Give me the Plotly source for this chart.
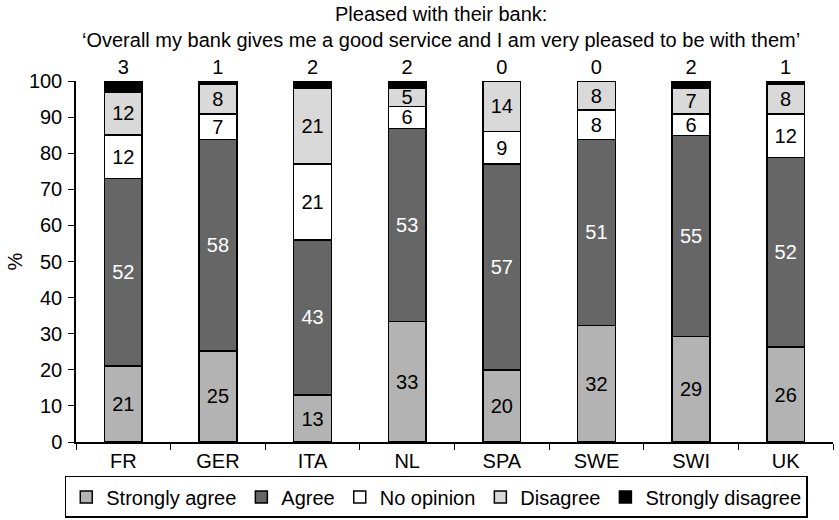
import plotly.graph_objects as go

countries = ["FR", "GER", "ITA", "NL", "SPA", "SWE", "SWI", "UK"]
strongly_agree = [21, 25, 13, 33, 20, 32, 29, 26]
agree = [52, 58, 43, 53, 57, 51, 55, 52]
no_opinion = [12, 7, 21, 6, 9, 8, 6, 12]
disagree = [12, 8, 21, 5, 14, 8, 7, 8]
strongly_disagree = [3, 1, 2, 2, 0, 0, 2, 1]
title_lines = [
    "Pleased with their bank:",
    "\u2018Overall my bank gives me a good service and I am very pleased to be with them\u2019",
]

series = [
    ("Strongly agree", strongly_agree, "#b3b3b3", "black", "inside"),
    ("Agree", agree, "#666666", "white", "inside"),
    ("No opinion", no_opinion, "#ffffff", "black", "inside"),
    ("Disagree", disagree, "#d9d9d9", "black", "inside"),
    ("Strongly disagree", strongly_disagree, "#000000", "black", "outside"),
]

FONT = "Liberation Sans, Arial, sans-serif"
FS = 20
W, H, LEFT, RIGHT, TOP, BOT = 839, 520, 76, 6, 81, 78
PLOT_H = H - TOP - BOT
PLOT_W = W - LEFT - RIGHT

fig = go.Figure()
for name, vals, color, tcolor, tpos in series:
    fig.add_trace(go.Bar(
        name=name, x=countries, y=vals,
        marker=dict(color=color, line=dict(color="black", width=1.5)),
        text=[str(v) for v in vals], textposition=tpos, textangle=0,
        insidetextanchor="middle",
        textfont=dict(size=FS, color=tcolor, family=FONT),
        cliponaxis=False, width=0.4,
    ))

for line, ypix in zip(title_lines, [14, 40]):
    fig.add_annotation(
        text=line, xref="paper", yref="paper",
        x=(441 - LEFT) / PLOT_W, xanchor="center",
        y=(H - BOT - ypix) / PLOT_H, yanchor="middle",
        showarrow=False, font=dict(size=FS, family=FONT, color="black"),
    )

fig.update_layout(
    barmode="stack", barnorm="percent",
    width=W, height=H,
    margin=dict(l=LEFT, r=RIGHT, t=TOP, b=BOT, autoexpand=False),
    paper_bgcolor="white", plot_bgcolor="white",
    font=dict(family=FONT, size=FS, color="black"),
    uniformtext=dict(minsize=FS, mode="show"),
    xaxis=dict(
        showline=True, linecolor="black", linewidth=1.5, automargin=False,
        ticks="outside", ticklen=6, tickcolor="black", tickson="boundaries",
        tickfont=dict(size=FS), showgrid=False,
    ),
    yaxis=dict(
        range=[0, 100.0001], tickvals=list(range(0, 101, 10)),
        showline=True, linecolor="black", linewidth=1.5, automargin=False,
        ticks="outside", ticklen=6, tickcolor="black", showgrid=False, zeroline=False,
        tickfont=dict(size=FS), ticklabelstandoff=2,
        title=dict(text="%", font=dict(size=FS), standoff=1),
    ),
    legend=dict(
        orientation="h", xref="container", yref="container",
        x=0.52, xanchor="center", y=0.004, yanchor="bottom",
        bordercolor="black", borderwidth=1.5, font=dict(size=FS),
        traceorder="normal", tracegroupgap=0,
    ),
    showlegend=True,
)

fig.write_html(
    "out.html",
    config={"displayModeBar": False},
    post_script="document.body.style.margin='0';document.body.style.overflow='hidden';",
)
